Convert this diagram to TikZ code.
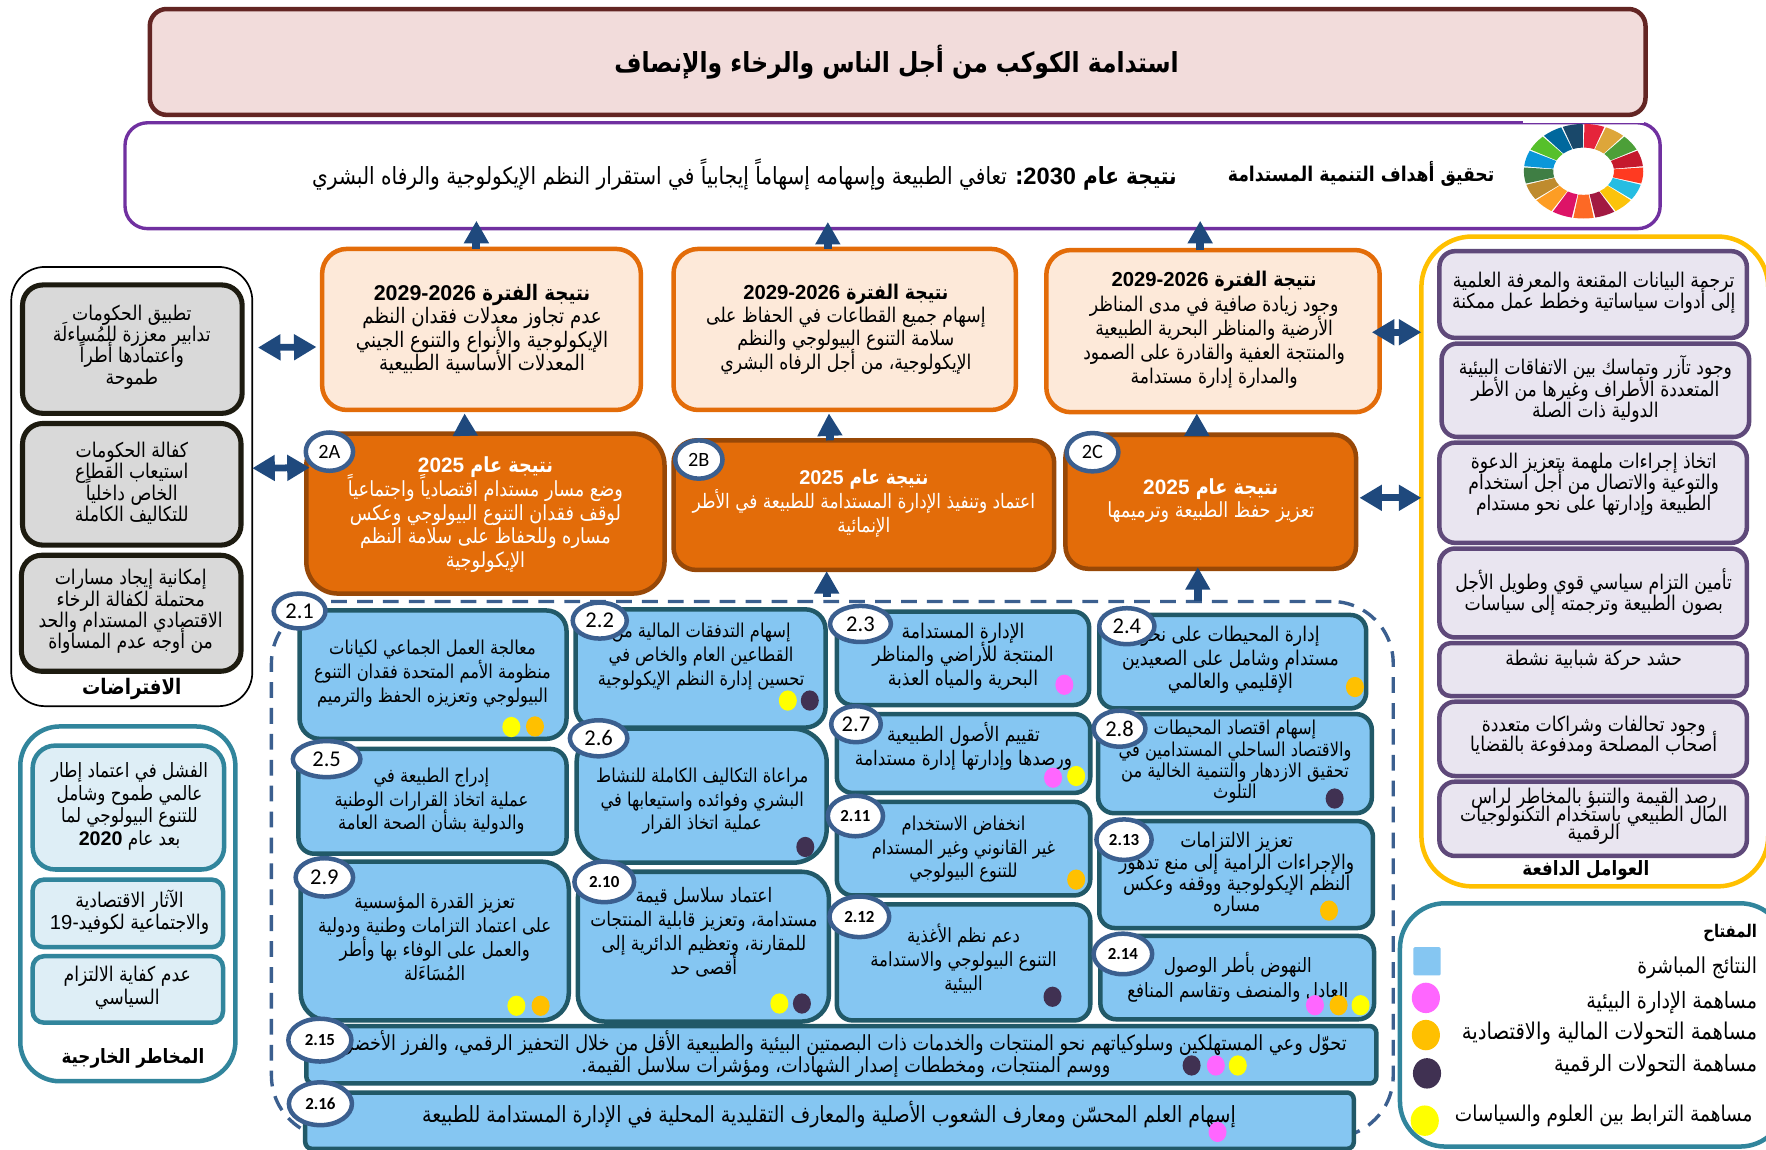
\documentclass[tikz,border=0pt]{standalone}
\usepackage{fontspec}
\usetikzlibrary{arrows.meta,shapes.geometric}
\TeXXeTstate=1
\newfontfamily\arf[Script=Arabic,FakeStretch=0.85]{DejaVu Sans}
\newfontfamily\latf{Liberation Sans}
\newfontfamily\calf{Carlito}
\newcommand\rtl[1]{\beginR #1\endR}
\newcommand\ltr[1]{\beginL{\latf #1}\endL}
\newcommand\arsetup[2]{\arf\fontsize{#1}{#2}\selectfont\lineskiplimit -100pt\relax}
\definecolor{navy}{HTML}{1F497D}
\definecolor{badge}{HTML}{3B5F8F}
\definecolor{cp}{HTML}{FF66FF}
\definecolor{co}{HTML}{FFC000}
\definecolor{cd}{HTML}{403152}
\definecolor{cy}{HTML}{FFFF00}
\definecolor{outfill}{HTML}{85C6F2}
\definecolor{outline}{HTML}{215968}
\tikzset{
 ar/.style 2 args={font=\arsetup{#1}{#2},align=center,inner sep=0pt,outer sep=0pt},
 base/.style={rectangle,draw,inner sep=0pt,outer sep=0pt},
 titlebox/.style={base,draw=HTMLtitle,fill=HTMLtitlef,line width=4pt,rounded corners=15pt},
 goalbox/.style={base,draw=HTMLpurple,fill=white,line width=3pt,rounded corners=20pt},
 periodbox/.style={base,draw=HTMLorange,fill=HTMLperiod,line width=4pt,rounded corners=22pt},
 yearbox/.style={base,draw=HTMLbrown,fill=HTMLorange,line width=4pt,rounded corners=20pt},
 outbox/.style={base,draw=outline,fill=outfill,line width=4pt,rounded corners=#1},
 outbox/.default=14pt,
 assumeouter/.style={base,draw=black,fill=white,line width=1.5pt,rounded corners=30pt},
 assumebox/.style={base,draw=HTMLdark,fill=HTMLgray,line width=4.5pt,rounded corners=18pt},
 riskouter/.style={base,draw=HTMLteal,fill=white,line width=4pt,rounded corners=35pt},
 riskbox/.style={base,draw=HTMLteal,fill=HTMLrisk,line width=4pt,rounded corners=#1},
 driveouter/.style={base,draw=co,fill=white,line width=4pt,rounded corners=45pt},
 drivebox/.style={base,draw=HTMLviolet,fill=HTMLlav,line width=4pt,rounded corners=#1},
 drivebox/.default=14pt,
 keyouter/.style={base,draw=HTMLteal,fill=white,line width=4pt,rounded corners=40pt},
 dashbox/.style={base,draw=badge,line width=3pt,dash pattern=on 14pt off 9pt,rounded corners=55pt},
 upar/.style={draw=navy,line width=7pt,-{Triangle[length=20pt,width=21pt,fill=navy]}},
 dblar/.style={draw=navy,line width=6pt,{Triangle[length=20pt,width=22pt,fill=navy]}-{Triangle[length=20pt,width=22pt,fill=navy]}},
 badgest/.style={ellipse,draw=badge,fill=white,line width=4pt,inner sep=0pt,outer sep=0pt},
 dotst/.style={ellipse,draw=none,minimum width=16pt,minimum height=18pt,inner sep=0pt},
}
\definecolor{HTMLtitle}{HTML}{632523}
\definecolor{HTMLtitlef}{HTML}{F2DCDB}
\definecolor{HTMLpurple}{HTML}{7030A0}
\definecolor{HTMLorange}{HTML}{E36C09}
\definecolor{HTMLperiod}{HTML}{FDE9D9}
\definecolor{HTMLbrown}{HTML}{984807}
\definecolor{HTMLdark}{HTML}{1D1B10}
\definecolor{HTMLgray}{HTML}{D9D9D9}
\definecolor{HTMLteal}{HTML}{31859C}
\definecolor{HTMLrisk}{HTML}{DEEEF6}
\definecolor{HTMLviolet}{HTML}{5F497A}
\definecolor{HTMLlav}{HTML}{E9E5F0}
\newcommand\bx[6]{%
 \pgfmathsetmacro\bxW{#4-#2}\pgfmathsetmacro\bxH{#5-#3}%
 \pgfmathsetmacro\bxX{(#2+#4)/2}\pgfmathsetmacro\bxY{(#3+#5)/2}%
 \node[#6,minimum width=\bxW pt,minimum height=\bxH pt] (#1) at (\bxX,\bxY) {};}
\newcommand\bdg[7]{%
 \pgfmathsetmacro\bxW{2*#4}\pgfmathsetmacro\bxH{2*#5}%
 \node[badgest,minimum width=\bxW pt,minimum height=\bxH pt,font=\calf\fontsize{#6}{#6}\selectfont] (#1) at (#2,#3) {#7};}
\newcommand\dt[4]{\node[dotst,fill=#2] (#1) at (#3,#4) {};}
\begin{document}
\begin{tikzpicture}[x=1pt,y=-1pt]
\useasboundingbox (0,0) rectangle (1568,1020.2);
\fill[white] (0,0) rectangle (1568,1020.2);
% title and goal
\bx{title}{133}{8}{1461}{102}{titlebox}
\node[ar={24.5}{28}] (titlet) at (796,55) {\rtl{\textbf{استدامة الكوكب من أجل الناس والرخاء والإنصاف}}};
\bx{goal}{111}{109}{1474}{203}{goalbox}
\fill[white] (1352,106.5) rectangle (1460,109.5);
\begin{scope}[shift={(1406,152)}]
\foreach \c [count=\i from 0] in {E5243B,DDA63A,4C9F38,C5192D,FF3A21,26BDE2,FCC30B,A21942,FD6925,DD1367,FD9D24,BF8B2E,3F7E44,0A97D9,56C02B,00689D,19486A}{
 \definecolor{wheelc}{HTML}{\c}
 \pgfmathsetmacro\wa{90-\i*360/17-0.8}\pgfmathsetmacro\wb{90-(\i+1)*360/17+0.8}
 \fill[wheelc] (\wa:53pt and 42pt) arc[start angle=\wa,end angle=\wb,x radius=53pt,y radius=42pt] -- (\wb:27pt and 21pt) arc[start angle=\wb,end angle=\wa,x radius=27pt,y radius=21pt] -- cycle;
}
\end{scope}
\node[ar={18}{20}] (goalt1) at (1208.5,154) {\rtl{\textbf{تحقيق أهداف التنمية المستدامة}}};
\node[ar={21}{24}] (goalt2) at (661,155) {\rtl{\textbf{نتيجة عام \ltr{2030}:} تعافي الطبيعة وإسهامه إسهاماً إيجابياً في استقرار النظم الإيكولوجية والرفاه البشري}};
% assumptions
\bx{assum}{10}{237}{224}{627}{assumeouter}
\bx{a1}{20}{253}{215}{367}{assumebox}
\node[ar={18}{19}] (a1t) at (117,308) {\rtl{تطبيق الحكومات}\\\rtl{تدابير معززة للمُساءلَة}\\\rtl{واعتمادها أطراً}\\\rtl{طموحة}};
\bx{a2}{20}{376}{214}{484}{assumebox}
\node[ar={18}{19}] (a2t) at (117,429) {\rtl{كفالة الحكومات}\\\rtl{استيعاب القطاع}\\\rtl{الخاص داخلياً}\\\rtl{للتكاليف الكاملة}};
\bx{a3}{19}{493}{214}{596}{assumebox}
\node[ar={18}{19}] (a3t) at (116,543) {\rtl{إمكانية إيجاد مسارات}\\\rtl{محتملة لكفالة الرخاء}\\\rtl{الاقتصادي المستدام والحد}\\\rtl{من أوجه عدم المساواة}};
\node[ar={19}{20}] (assumt) at (117,612) {\rtl{\textbf{الافتراضات}}};
% risks
\bx{risk}{18}{645}{209}{960}{riskouter}
\bx{r1}{29}{662}{199}{772}{riskbox=20pt}
\node[ar={17.5}{20}] (r1t) at (115,716) {\rtl{الفشل في اعتماد إطار}\\\rtl{عالمي طموح وشامل}\\\rtl{للتنوع البيولوجي لما}\\\rtl{بعد عام \ltr{\bfseries 2020}}};
\bx{r2}{29}{781}{198}{841}{riskbox=10pt}
\node[ar={18}{20}] (r2t) at (115,810) {\rtl{الآثار الاقتصادية}\\\rtl{والاجتماعية لكوفيد-\ltr{19}}};
\bx{r3}{29}{849}{198}{908}{riskbox=10pt}
\node[ar={18}{20}] (r3t) at (113,877) {\rtl{عدم كفاية الالتزام}\\\rtl{السياسي}};
\node[ar={17.5}{20}] (riskt) at (118,940) {\rtl{\textbf{المخاطر الخارجية}}};
% drivers
\bx{drive}{1262}{210}{1570}{787}{driveouter}
\bx{d1}{1278}{223}{1551}{300}{drivebox}
\node[ar={18}{19}] (d1t) at (1415,260) {\rtl{ترجمة البيانات المقنعة والمعرفة العلمية}\\\rtl{إلى أدوات سياساتية وخطط عمل ممكنة}};
\bx{d2}{1280}{305}{1553}{388}{drivebox}
\node[ar={18}{19}] (d2t) at (1416.5,345.5) {\rtl{وجود تآزر وتماسك بين الاتفاقات البيئية}\\\rtl{المتعددة الأطراف وغيرها من الأطر}\\\rtl{الدولية ذات الصلة}};
\bx{d3}{1278}{393}{1551}{482}{drivebox}
\node[ar={18}{19}] (d3t) at (1415,430) {\rtl{اتخاذ إجراءات ملهمة بتعزيز الدعوة}\\\rtl{والتوعية والاتصال من أجل استخدام}\\\rtl{الطبيعة وإدارتها على نحو مستدام}};
\bx{d4}{1278}{487}{1551}{566}{drivebox}
\node[ar={18}{19}] (d4t) at (1415,525.5) {\rtl{تأمين التزام سياسي قوي وطويل الأجل}\\\rtl{بصون الطبيعة وترجمته إلى سياسات}};
\bx{d5}{1278}{571}{1551}{618}{drivebox=10pt}
\node[ar={18}{19}] (d5t) at (1415,586.5) {\rtl{حشد حركة شبابية نشطة}};
\bx{d6}{1278}{623}{1551}{689}{drivebox}
\node[ar={18}{18}] (d6t) at (1415,653.5) {\rtl{وجود تحالفات وشراكات متعددة}\\\rtl{أصحاب المصلحة ومدفوعة بالقضايا}};
\bx{d7}{1278}{694}{1551}{760}{drivebox}
\node[ar={18}{16}] (d7t) at (1415,724.5) {\rtl{رصد القيمة والتنبؤ بالمخاطر لراس}\\\rtl{المال الطبيعي باستخدام التكنولوجيات}\\\rtl{الرقمية}};
\node[ar={17.5}{20}] (drivet) at (1408,772.5) {\rtl{\textbf{العوامل الدافعة}}};
% key
\bx{keyb}{1243}{802}{1585}{1018}{keyouter}
\node[anchor=east,ar={15.5}{20}] (k0) at (1560,828) {\rtl{\textbf{المفتاح}}};
\node[anchor=east,ar={19.5}{20}] (k1) at (1560,859) {\rtl{النتائج المباشرة}};
\node[anchor=east,ar={20}{20}] (k2) at (1560,890) {\rtl{مساهمة الإدارة البيئية}};
\node[anchor=east,ar={20.5}{20}] (k3) at (1560,918) {\rtl{مساهمة التحولات المالية والاقتصادية}};
\node[anchor=east,ar={20}{20}] (k4) at (1560,946) {\rtl{مساهمة التحولات الرقمية}};
\node[anchor=east,ar={19.3}{20}] (k5) at (1556,991) {\rtl{مساهمة الترابط بين العلوم والسياسات}};
\node[rectangle,fill=outfill,minimum width=24pt,minimum height=25pt,inner sep=0pt,rounded corners=1pt] (ks) at (1267,853.5) {};
\node[dotst,fill=cp,minimum width=25pt,minimum height=27pt] (kp) at (1266,886) {};
\node[dotst,fill=co,minimum width=25pt,minimum height=27pt] (ko) at (1266,919) {};
\node[dotst,fill=cd,minimum width=25pt,minimum height=27pt] (kd) at (1267,953) {};
\node[dotst,fill=cy,minimum width=25pt,minimum height=27pt] (ky) at (1265,995) {};
% period outcomes
\bx{o1}{286}{221}{569}{364}{periodbox}
\node[ar={19}{20.7}] (o1t) at (428,292) {\rtl{\textbf{نتيجة الفترة \ltr{\bfseries 2029-2026}}}\\\rtl{عدم تجاوز معدلات فقدان النظم}\\\rtl{الإيكولوجية والأنواع والتنوع الجيني}\\\rtl{المعدلات الأساسية الطبيعية}};
\bx{o2}{598}{221}{902}{364}{periodbox}
\node[ar={18}{20.7}] (o2t) at (751,292) {\rtl{\textbf{نتيجة الفترة \ltr{\bfseries 2029-2026}}}\\\rtl{إسهام جميع القطاعات في الحفاظ على}\\\rtl{سلامة التنوع البيولوجي والنظم}\\\rtl{الإيكولوجية، من أجل الرفاه البشري}};
\bx{o3}{929}{222}{1225}{366}{periodbox}
\node[ar={18}{21.5}] (o3t) at (1078,293) {\rtl{\textbf{نتيجة الفترة \ltr{\bfseries 2029-2026}}}\\\rtl{وجود زيادة صافية في مدى المناظر}\\\rtl{الأرضية والمناظر البحرية الطبيعية}\\\rtl{والمنتجة العفية والقادرة على الصمود}\\\rtl{والمدارة إدارة مستدامة}};
% 2025 outcomes
\bx{b1}{272}{385}{590}{527}{yearbox,rounded corners=28pt}
\node[ar={18.5}{21.2},text=white] (b1t) at (431,457) {\rtl{\textbf{نتيجة عام \ltr{\bfseries 2025}}}\\\rtl{وضع مسار مستدام اقتصادياً واجتماعياً}\\\rtl{لوقف فقدان التنوع البيولوجي وعكس}\\\rtl{مساره وللحفاظ على سلامة النظم}\\\rtl{الإيكولوجية}};
\bx{b2}{598}{391}{936}{506}{yearbox}
\node[ar={17.7}{21},text=white] (b2t) at (767,447) {\rtl{\textbf{نتيجة عام \ltr{\bfseries 2025}}}\\\rtl{اعتماد وتنفيذ الإدارة المستدامة للطبيعة في الأطر}\\\rtl{الإنمائية}};
\bx{b3}{946}{386}{1204}{505}{yearbox}
\node[ar={18.5}{21},text=white] (b3t) at (1075,444.5) {\rtl{\textbf{نتيجة عام \ltr{\bfseries 2025}}}\\\rtl{تعزيز حفظ الطبيعة وترميمها}};
% outputs frame
\bx{dash}{241}{534}{1237}{1010}{dashbox}
% outputs
\bx{p1}{266}{542}{503}{656}{outbox=18pt}
\node[ar={17}{21}] (p1t) at (384,598) {\rtl{معالجة العمل الجماعي لكيانات}\\\rtl{منظومة الأمم المتحدة فقدان التنوع}\\\rtl{البيولوجي وتعزيزه الحفظ والترميم}};
\bx{p2}{511}{541}{733}{646}{outbox=18pt}
\node[ar={17}{21}] (p2t) at (622.5,583) {\rtl{إسهام التدفقات المالية من}\\\rtl{القطاعين العام والخاص في}\\\rtl{تحسين إدارة النظم الإيكولوجية}};
\bx{p3}{743}{543}{967}{626}{outbox}
\node[ar={18}{21}] (p3t) at (855,583) {\rtl{الإدارة المستدامة}\\\rtl{المنتجة للأراضي والمناظر}\\\rtl{البحرية والمياه العذبة}};
\bx{p4}{976}{546}{1213}{629}{outbox}
\node[ar={18}{21}] (p4t) at (1092.5,586) {\rtl{إدارة المحيطات على نحو}\\\rtl{مستدام وشامل على الصعيدين}\\\rtl{الإقليمي والعالمي}};
\bx{p5}{265}{665}{503}{758}{outbox}
\node[ar={17}{21}] (p5t) at (383,711.5) {\rtl{إدراج الطبيعة في}\\\rtl{عملية اتخاذ القرارات الوطنية}\\\rtl{والدولية بشأن الصحة العامة}};
\bx{p6}{512}{647}{734}{766}{outbox=30pt}
\node[ar={17}{21}] (p6t) at (623.5,711.5) {\rtl{مراعاة التكاليف الكاملة للنشاط}\\\rtl{البشري وفوائده واستيعابها في}\\\rtl{عملية اتخاذ القرار}};
\bx{p7}{743}{634}{968}{704}{outbox}
\node[ar={17.8}{21}] (p7t) at (855.5,662.5) {\rtl{تقييم الأصول الطبيعية}\\\rtl{ورصدها وإدارتها إدارة مستدامة}};
\bx{p8}{975}{634}{1218}{722}{outbox}
\node[ar={17}{19}] (p8t) at (1096.5,676.5) {\rtl{إسهام اقتصاد المحيطات}\\\rtl{والاقتصاد الساحلي المستدامين في}\\\rtl{تحقيق الازدهار والتنمية الخالية من}\\\rtl{التلوث}};
\bx{p9}{267}{765}{505}{906}{outbox=24pt}
\node[ar={17.4}{21.4}] (p9t) at (386,832) {\rtl{تعزيز القدرة المؤسسية}\\\rtl{على اعتماد التزامات وطنية ودولية}\\\rtl{والعمل على الوفاء بها وأطر}\\\rtl{المُسَاءَلة}};
\bx{p10}{513}{774}{736}{907}{outbox=24pt}
\node[ar={17.7}{21.4}] (p10t) at (625,828) {\rtl{اعتماد سلاسل قيمة}\\\rtl{مستدامة، وتعزيز قابلية المنتجات}\\\rtl{للمقارنة، وتعظيم الدائرية إلى}\\\rtl{أقصى حد}};
\bx{p11}{743}{712}{968}{795}{outbox}
\node[ar={17}{21}] (p11t) at (855.5,754) {\rtl{انخفاض الاستخدام}\\\rtl{غير القانوني وغير المستدام}\\\rtl{للتنوع البيولوجي}};
\bx{p12}{743}{803}{968}{906}{outbox}
\node[ar={17.3}{21}] (p12t) at (855.5,851) {\rtl{دعم نظم الأغذية}\\\rtl{التنوع البيولوجي والاستدامة}\\\rtl{البيئية}};
\bx{p13}{976}{729}{1219}{824}{outbox}
\node[ar={18}{19}] (p13t) at (1098,776.5) {\rtl{تعزيز الالتزامات}\\\rtl{والإجراءات الرامية إلى منع تدهور}\\\rtl{النظم الإيكولوجية ووقفه وعكس}\\\rtl{مساره}};
\bx{p14}{977}{831}{1220}{905}{outbox}
\node[ar={17.5}{22}] (p14t) at (1099,867.5) {\rtl{النهوض بأطر الوصول}\\\rtl{العادل والمنصف وتقاسم المنافع}};
\bx{p15}{272}{911}{1222}{962}{outbox=6pt}
\node[ar={18.5}{20}] (p15t) at (751,936) {\rtl{تحوّل وعي المستهلكين وسلوكياتهم نحو المنتجات والخدمات ذات البصمتين البيئية والطبيعية الأقل من خلال التحفيز الرقمي، والفرز الأخضر}\\\rtl{ووسم المنتجات، ومخططات إصدار الشهادات، ومؤشرات سلاسل القيمة.}};
\bx{p16}{271}{970}{1202}{1020}{outbox=6pt}
\node[ar={19.8}{20}] (p16t) at (736,990) {\rtl{إسهام العلم المحسّن ومعارف الشعوب الأصلية والمعارف التقليدية المحلية في الإدارة المستدامة للطبيعة}};
% contribution dots
\dt{dp1a}{cy}{454}{645.5}\dt{dp1b}{co}{475}{645}
\dt{dp2a}{cy}{699.5}{622}\dt{dp2b}{cd}{719}{622}
\dt{dp3a}{cp}{945}{608}
\dt{dp4a}{co}{1203}{610}
\dt{dp6a}{cd}{715}{752}
\dt{dp7a}{cp}{935}{690.5}\dt{dp7b}{cy}{955.5}{689}
\dt{dp8a}{cd}{1185}{709}
\dt{dp9a}{cy}{458.5}{893}\dt{dp9b}{co}{480}{893}
\dt{dp10a}{cy}{692}{891}\dt{dp10b}{cd}{712}{891}
\dt{dp11a}{co}{955.5}{781}
\dt{dp12a}{cd}{934.5}{885}
\dt{dp13a}{co}{1180}{808.5}
\dt{dp14a}{cp}{1167.5}{892.5}\dt{dp14b}{co}{1188.5}{892.5}\dt{dp14c}{cy}{1208}{892.5}
\dt{dp15a}{cd}{1058}{946}\dt{dp15b}{cp}{1079.5}{946}\dt{dp15c}{cy}{1099}{946}
\dt{dp16a}{cp}{1081}{1005}
% badges
\bdg{bA}{292.5}{401}{21}{17}{18}{2A}
\bdg{bB}{620.5}{408}{21}{17}{18}{2B}
\bdg{bC}{970}{401.5}{23}{17}{18}{2C}
\bdg{n1}{266}{542.5}{23}{15.5}{20}{2.1}
\bdg{n2}{532.5}{551}{24}{16}{20}{2.2}
\bdg{n3}{764}{554}{27}{16}{20}{2.3}
\bdg{n4}{1000.5}{556}{24.5}{16}{20}{2.4}
\bdg{n5}{290}{674}{30}{16}{20}{2.5}
\bdg{n6}{531.5}{655.5}{25.5}{16}{20}{2.6}
\bdg{n7}{760}{643}{22}{16}{20}{2.7}
\bdg{n8}{994}{647}{23}{16}{20}{2.8}
\bdg{n9}{288}{779}{25.5}{17}{20}{2.9}
\bdg{n10}{536.5}{783}{26.5}{18}{15}{\textbf{2.10}}
\bdg{n11}{759.5}{724.5}{24.5}{18}{15}{\textbf{2.11}}
\bdg{n12}{763}{814}{26.5}{18}{15}{\textbf{2.12}}
\bdg{n13}{998}{745.5}{24.5}{18}{15}{\textbf{2.13}}
\bdg{n14}{997}{847}{26}{18}{15}{\textbf{2.14}}
\bdg{n15}{284}{923.5}{28}{19}{15}{\textbf{2.15}}
\bdg{n16}{284.5}{980}{28}{19}{15}{\textbf{2.16}}
% connectors
\draw[upar] ([xshift=-4.5]o1.north) -- ([xshift=-369.5,yshift=7]goal.south);
\draw[upar] ([xshift=-15]o2.north) -- ([xshift=-57.5,yshift=6]goal.south);
\draw[upar] ([xshift=-11.4]o3.north) -- ([xshift=273.1,yshift=7]goal.south);
\draw[upar] ([xshift=-18]b1.north) -- ([xshift=-15,yshift=-3]o1.south);
\draw[upar] ([xshift=-30]b2.north) -- ([xshift=-14,yshift=-3]o2.south);
\draw[upar] ([xshift=-12.4]b3.north) -- ([xshift=-14.4,yshift=-1]o3.south);
\draw[upar] ([xshift=-5,yshift=4]dash.north) -- ([xshift=-33,yshift=-1]b2.south);
\draw[upar] ([xshift=324.5]dash.north) -- ([xshift=-11.5,yshift=1.4]b3.south);
\draw[dblar] ([yshift=123.4,xshift=5]assum.east) -- ([yshift=-15.6,xshift=-5]o1.west);
\draw[dblar] ([yshift=16.3]assum.east) -- ([yshift=40.8,xshift=3]b1.west);
\draw[dblar] ([yshift=-1,xshift=-7]o3.east) -- ([yshift=203.5]drive.west);
\draw[dblar] ([yshift=3.5,xshift=3]b3.east) -- ([yshift=56.5]drive.west);
\end{tikzpicture}
\end{document}
